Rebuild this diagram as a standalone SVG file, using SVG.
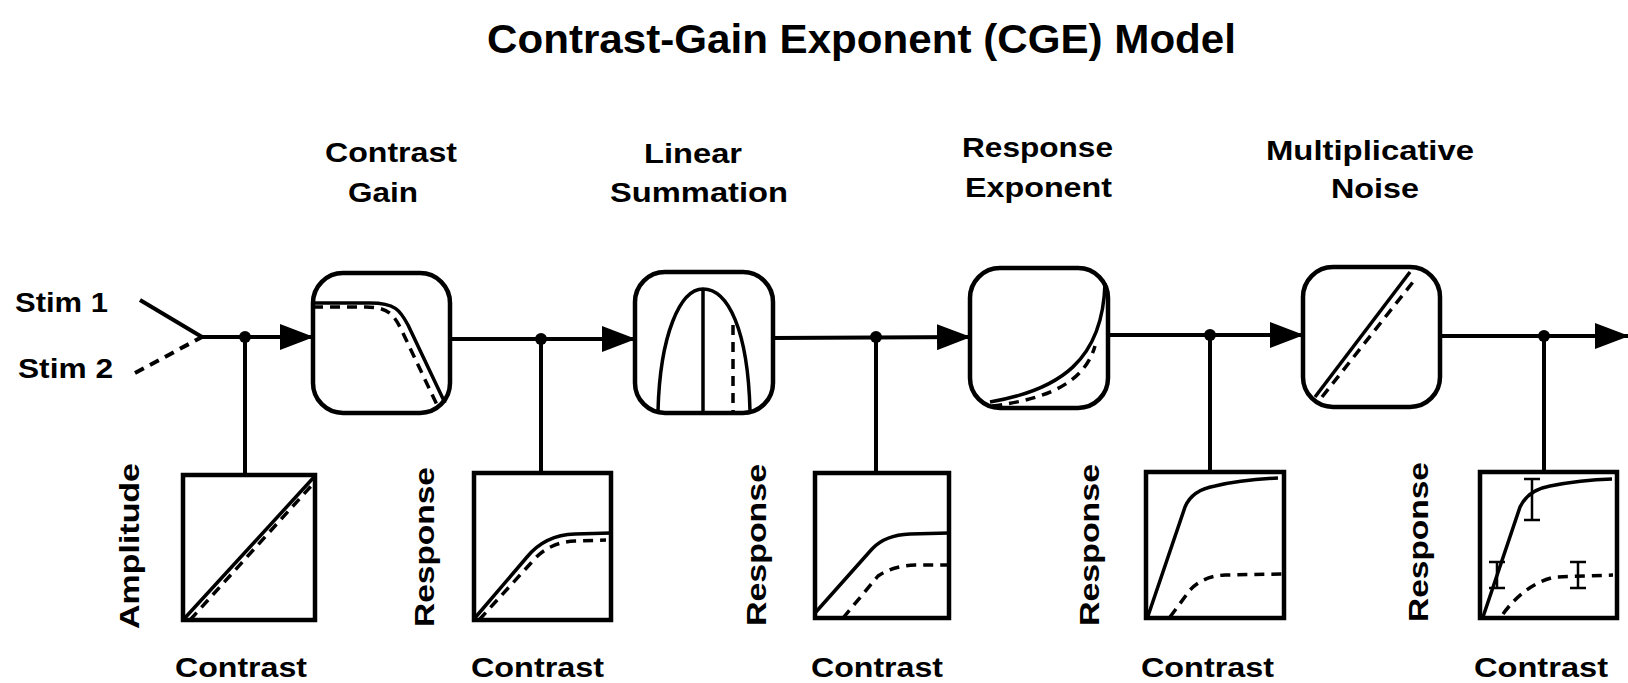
<svg xmlns="http://www.w3.org/2000/svg" width="1628" height="683" viewBox="0 0 1628 683">
<style>
.ln{stroke:#000;stroke-width:4;fill:none;stroke-linejoin:round}
.cv{stroke:#000;stroke-width:3.5;fill:none;stroke-linejoin:round}
.dash{stroke-dasharray:10 7}
.box{fill:#fff;stroke:#000;stroke-width:4.5}
.plot{fill:#fff;stroke:#000;stroke-width:4.5}
.eb{stroke:#000;stroke-width:2.5;fill:none}
.t{font-family:"Liberation Sans",Arial,Helvetica,sans-serif;font-weight:bold;fill:#000;font-size:28px}
.title{font-family:"Liberation Sans",Arial,Helvetica,sans-serif;font-weight:bold;fill:#000;font-size:41px}
</style>
<defs>
<marker id="arr" markerUnits="userSpaceOnUse" markerWidth="34" markerHeight="26" viewBox="0 0 34 26" refX="33" refY="13" orient="auto">
<path d="M0,0 L34,13 L0,26 z" fill="#000"/>
</marker>
</defs>
<rect width="1628" height="683" fill="#fff"/>
<text class="title" x="487" y="53" textLength="749" lengthAdjust="spacingAndGlyphs">Contrast-Gain Exponent (CGE) Model</text>

<g id="connectors">
<line class="ln" x1="140" y1="300" x2="202" y2="337"/>
<line class="ln dash" x1="135" y1="373" x2="202" y2="337"/>
<path class="ln" d="M202,337 L313,337" marker-end="url(#arr)"/>
<path class="ln" d="M450,339 L635,339" marker-end="url(#arr)"/>
<path class="ln" d="M773,338 L970,337" marker-end="url(#arr)"/>
<path class="ln" d="M1108,335 L1303,335" marker-end="url(#arr)"/>
<path class="ln" d="M1440,336 L1628,336" marker-end="url(#arr)"/>
<line class="ln" x1="245" y1="337" x2="245" y2="475"/>
<line class="ln" x1="541" y1="339" x2="541" y2="473"/>
<line class="ln" x1="876" y1="337" x2="876" y2="473"/>
<line class="ln" x1="1210" y1="335" x2="1210" y2="472"/>
<line class="ln" x1="1544" y1="336" x2="1544" y2="472"/>
<circle cx="245" cy="337" r="6"/>
<circle cx="541" cy="339" r="6"/>
<circle cx="876" cy="337" r="6"/>
<circle cx="1210" cy="335" r="6"/>
<circle cx="1544" cy="336" r="6"/>
</g>

<g id="stim1"><text class="t" x="15" y="312" textLength="93" lengthAdjust="spacingAndGlyphs">Stim 1</text></g>
<g id="stim2"><text class="t" x="18" y="378" textLength="95" lengthAdjust="spacingAndGlyphs">Stim 2</text></g>

<g id="contrast-gain">
<text class="t" x="325" y="162" textLength="132" lengthAdjust="spacingAndGlyphs">Contrast</text>
<text class="t" x="348" y="202" textLength="70" lengthAdjust="spacingAndGlyphs">Gain</text>
<rect class="box" x="313" y="273" width="137" height="140" rx="30"/>
<path class="cv" d="M313,303 L370,303 C395,303 400,310 408,325 L445,403"/>
<path class="cv dash" d="M313,307 L366,307 C388,307 394,315 401,329 L438,407"/>
</g>

<g id="linear-summation">
<text class="t" x="644" y="163" textLength="98" lengthAdjust="spacingAndGlyphs">Linear</text>
<text class="t" x="610" y="202" textLength="178" lengthAdjust="spacingAndGlyphs">Summation</text>
<rect class="box" x="635" y="272" width="138" height="141" rx="30"/>
<path class="cv" d="M658,411 C660,335 680,289 703,289 C728,289 748,330 750,411"/>
<line class="cv" x1="703" y1="289" x2="703" y2="411"/>
<line class="cv dash" x1="733" y1="325" x2="733" y2="411"/>
</g>

<g id="response-exponent">
<text class="t" x="962" y="157" textLength="151" lengthAdjust="spacingAndGlyphs">Response</text>
<text class="t" x="965" y="197" textLength="147" lengthAdjust="spacingAndGlyphs">Exponent</text>
<rect class="box" x="970" y="268" width="138" height="140" rx="30"/>
<path class="cv" d="M990,402 C1060,390 1103,360 1105,283"/>
<path class="cv dash" d="M992,406 C1050,399 1085,381 1095,346"/>
</g>

<g id="multiplicative-noise">
<text class="t" x="1266" y="160" textLength="208" lengthAdjust="spacingAndGlyphs">Multiplicative</text>
<text class="t" x="1331" y="198" textLength="88" lengthAdjust="spacingAndGlyphs">Noise</text>
<rect class="box" x="1303" y="267" width="137" height="140" rx="30"/>
<line class="cv" x1="1315" y1="397" x2="1410" y2="272"/>
<line class="cv dash" x1="1322" y1="397" x2="1413" y2="282"/>
</g>

<g id="plot-amplitude">
<rect class="plot" x="183" y="475" width="132" height="145"/>
<line class="cv" x1="183" y1="620" x2="315" y2="476"/>
<line class="cv dash" x1="190" y1="620" x2="312" y2="485"/>
<text class="t" transform="translate(139,546) rotate(-90)" text-anchor="middle" textLength="166" lengthAdjust="spacingAndGlyphs">Amplitude</text>
<text class="t" x="175" y="677" textLength="132" lengthAdjust="spacingAndGlyphs">Contrast</text>
</g>

<g id="plot-gain">
<rect class="plot" x="474" y="473" width="137" height="147"/>
<path class="cv" d="M474,619 L527,557 Q545,535 575,534 L611,533"/>
<path class="cv dash" d="M479,620 L531,563 Q548,542 575,541 L606,540"/>
<text class="t" transform="translate(434,547) rotate(-90)" text-anchor="middle" textLength="160" lengthAdjust="spacingAndGlyphs">Response</text>
<text class="t" x="471" y="677" textLength="133" lengthAdjust="spacingAndGlyphs">Contrast</text>
</g>

<g id="plot-summation">
<rect class="plot" x="815" y="473" width="134" height="145"/>
<path class="cv" d="M815,613 L872,549 Q885,535 910,534 L949,533"/>
<path class="cv dash" d="M843,618 L878,576 Q892,566 915,565 L949,565"/>
<text class="t" transform="translate(766,545) rotate(-90)" text-anchor="middle" textLength="162" lengthAdjust="spacingAndGlyphs">Response</text>
<text class="t" x="811" y="677" textLength="132" lengthAdjust="spacingAndGlyphs">Contrast</text>
</g>

<g id="plot-exponent">
<rect class="plot" x="1146" y="472" width="138" height="146"/>
<path class="cv" d="M1148,616 L1185,507 Q1192,490 1215,486 Q1240,480 1278,478"/>
<path class="cv dash" d="M1170,617 L1190,590 Q1203,576 1225,575 L1284,574"/>
<text class="t" transform="translate(1099,545) rotate(-90)" text-anchor="middle" textLength="162" lengthAdjust="spacingAndGlyphs">Response</text>
<text class="t" x="1141" y="677" textLength="133" lengthAdjust="spacingAndGlyphs">Contrast</text>
</g>

<g id="plot-noise">
<rect class="plot" x="1480" y="472" width="137" height="146"/>
<path class="cv" d="M1483,617 L1520,507 Q1528,490 1550,486 Q1580,480 1612,479"/>
<path class="cv dash" d="M1503,614 Q1525,584 1555,577 L1613,575"/>
<path class="eb" d="M1532,479 L1532,520 M1524,479 L1540,479 M1524,520 L1540,520"/>
<path class="eb" d="M1497,562 L1497,588 M1489,562 L1505,562 M1489,588 L1505,588"/>
<path class="eb" d="M1578,562 L1578,588 M1570,562 L1586,562 M1570,588 L1586,588"/>
<text class="t" transform="translate(1428,542) rotate(-90)" text-anchor="middle" textLength="160" lengthAdjust="spacingAndGlyphs">Response</text>
<text class="t" x="1474" y="677" textLength="134" lengthAdjust="spacingAndGlyphs">Contrast</text>
</g>
</svg>
